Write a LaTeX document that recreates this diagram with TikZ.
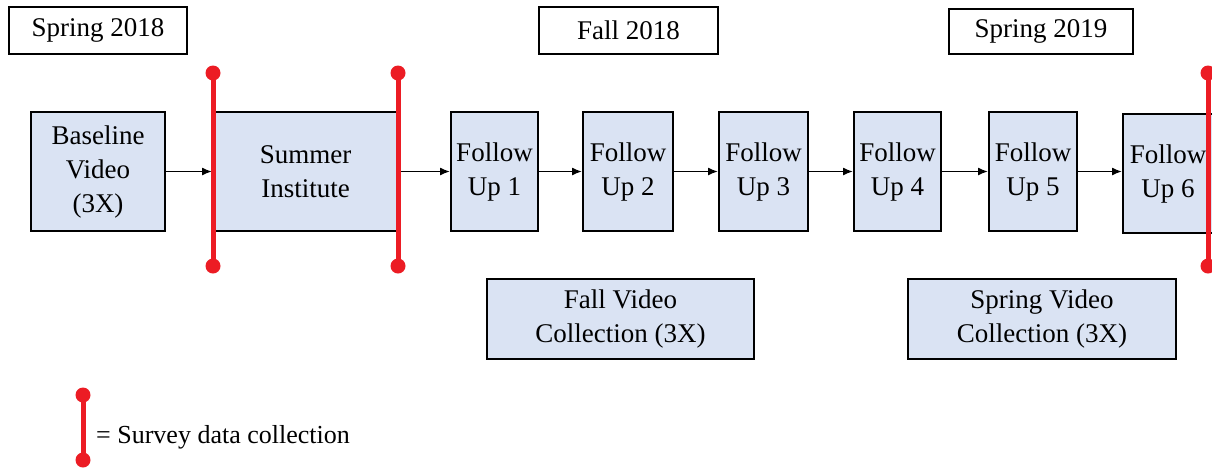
\documentclass[tikz,border=0pt]{standalone}
\usepackage{fontspec}
\setmainfont{Liberation Serif}
\usetikzlibrary{arrows.meta}
\definecolor{boxblue}{HTML}{DAE3F3}
\definecolor{surveyred}{HTML}{EC1C24}
\tikzset{
  stagebox/.style={draw=black, line width=1.8pt, fill=boxblue, inner sep=0pt, align=center,
    font=\fontsize{27}{34}\selectfont},
  termbox/.style={draw=black, line width=1.8pt, fill=white, inner sep=0pt, align=center,
    font=\fontsize{27}{34}\selectfont},
  flow/.style={line width=1.8pt, -{Latex[length=10pt,width=8pt]}},
  survey/.style={line width=5pt, draw=surveyred},
  surveydot/.style={fill=surveyred, draw=none}
}
\begin{document}
\begin{tikzpicture}[x=1pt,y=-1pt]
\clip (0,0) rectangle (1212,467);
\useasboundingbox (0,0) rectangle (1212,467);
\fill[white] (0,0) rectangle (1212,467);

% term labels
\node[termbox, minimum width=178pt, minimum height=47pt] (s18) at (98,30.5) {Spring 2018};
\node[termbox, minimum width=179pt, minimum height=47pt] (f18) at (628.5,30.5) {Fall 2018};
\node[termbox, minimum width=184pt, minimum height=45pt] (s19) at (1041,31.5) {Spring 2019};

% stages
\node[stagebox, minimum width=134pt, minimum height=119pt] (base) at (98,171.5) {Baseline\\Video\\(3X)};
\node[stagebox, minimum width=185pt, minimum height=119pt] (summer) at (305.5,171.5) {Summer\\Institute};
\node[stagebox, minimum width=87pt, minimum height=119pt] (fu1) at (494.5,171.5) {Follow\\Up 1};
\node[stagebox, minimum width=90pt, minimum height=119pt] (fu2) at (628,171.5) {Follow\\Up 2};
\node[stagebox, minimum width=89pt, minimum height=119pt] (fu3) at (763.5,171.5) {Follow\\Up 3};
\node[stagebox, minimum width=87pt, minimum height=119pt] (fu4) at (897.5,171.5) {Follow\\Up 4};
\node[stagebox, minimum width=88pt, minimum height=119pt] (fu5) at (1033,171.5) {Follow\\Up 5};
\node[stagebox, minimum width=90pt, minimum height=119pt] (fu6) at (1168,173.5) {Follow\\Up 6};

\node[stagebox, minimum width=267pt, minimum height=80pt] (fallvid) at (620.5,319) {Fall Video\\Collection (3X)};
\node[stagebox, minimum width=268pt, minimum height=80pt] (springvid) at (1042,319) {Spring Video\\Collection (3X)};

% connectors
\draw[flow] (base.east) -- (summer.west);
\draw[flow] (summer.east) -- (fu1.west);
\draw[flow] (fu1.east) -- (fu2.west);
\draw[flow] (fu2.east) -- (fu3.west);
\draw[flow] (fu3.east) -- (fu4.west);
\draw[flow] (fu4.east) -- (fu5.west);
\draw[flow] (fu5.east) -- (fu6.west |- fu5.east);

% survey markers
\foreach \sx/\nm in {213/sa, 398/sb, 1208/sc}{
  \coordinate (\nm top) at (\sx,73);
  \coordinate (\nm bot) at (\sx,266);
  \draw[survey] (\nm top) -- (\nm bot);
  \fill[surveydot] (\nm top) circle (7.5);
  \fill[surveydot] (\nm bot) circle (7.5);
}

% legend
\coordinate (legtop) at (83,395);
\coordinate (legbot) at (83,460);
\draw[survey] (legtop) -- (legbot);
\fill[surveydot] (legtop) circle (7.5);
\fill[surveydot] (legbot) circle (7.5);
\node[anchor=base west, inner sep=0pt, font=\fontsize{26}{32}\selectfont] (legtext) at (96,443) {= Survey data collection};
\end{tikzpicture}
\end{document}
